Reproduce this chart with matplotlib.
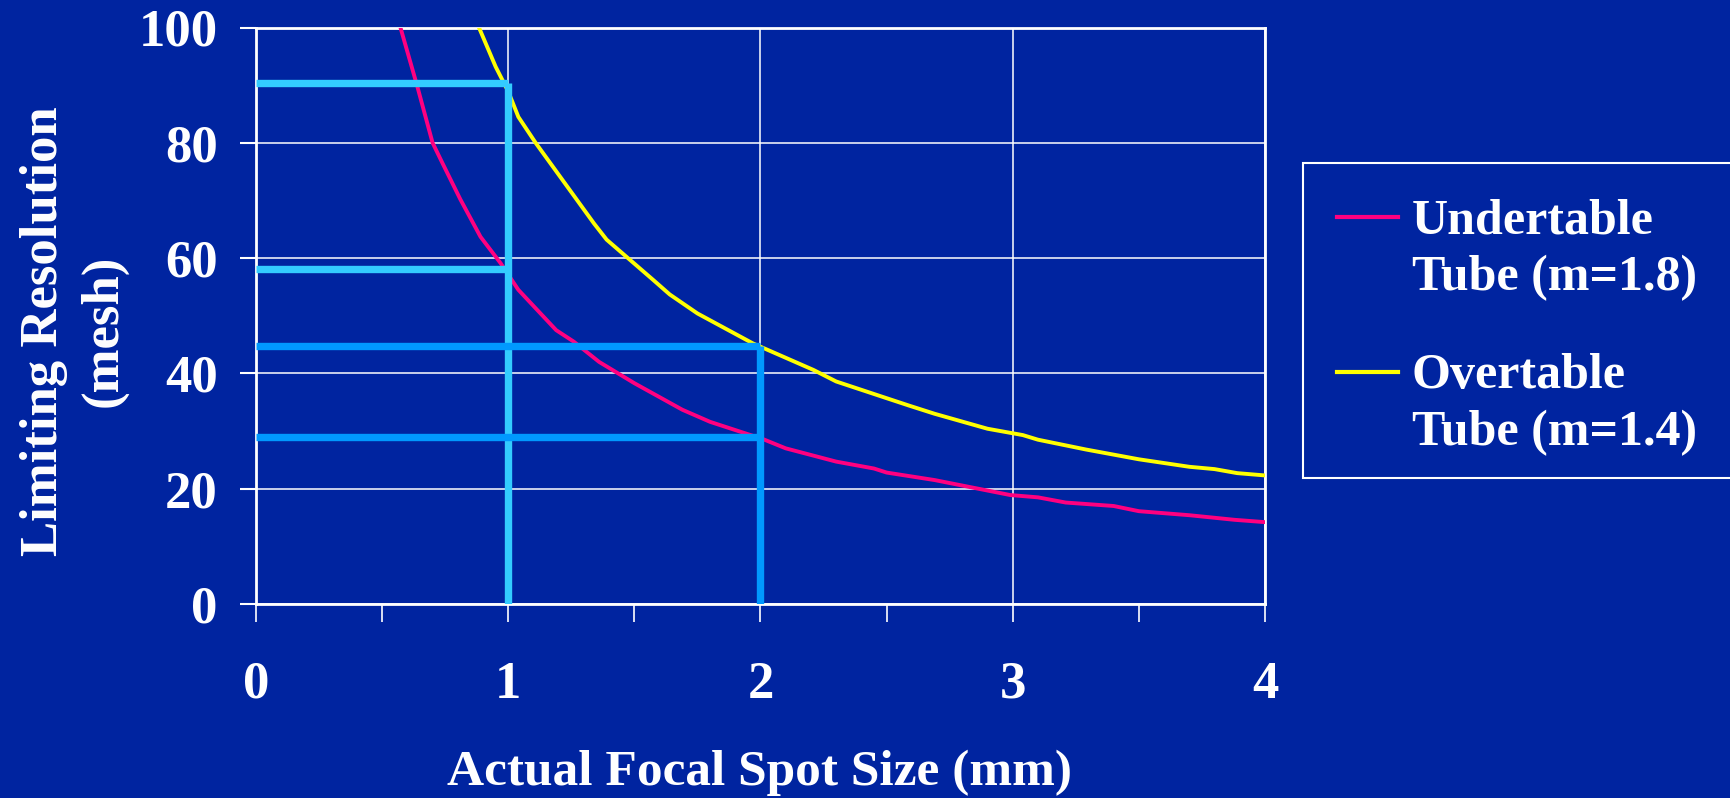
import matplotlib.pyplot as plt
from matplotlib.lines import Line2D
from matplotlib.patches import Rectangle

plt.rcParams['font.family'] = ['Liberation Serif', 'DejaVu Serif']
plt.rcParams['font.weight'] = 'bold'

# limiting resolution curves
under_x = [0.57, 0.64, 0.70, 0.74, 0.81, 0.89, 0.97, 1.04, 1.19, 1.26, 1.36, 1.50, 1.69, 1.80,
           2.01, 2.10, 2.30, 2.45, 2.50, 2.69, 2.99, 3.10, 3.21, 3.40, 3.50, 3.70, 3.88, 4.00]
under_y = [100.4, 89.7, 80.0, 76.4, 70.2, 63.7, 59.1, 54.5, 47.5, 45.5, 42.0, 38.3, 33.7, 31.6,
           28.6, 27.0, 24.7, 23.5, 22.8, 21.5, 18.9, 18.5, 17.6, 17.0, 16.1, 15.4, 14.6, 14.2]
over_x = [0.88, 0.95, 1.00, 1.04, 1.11, 1.34, 1.39, 1.575, 1.64, 1.75, 1.97, 2.21, 2.30,
          2.50, 2.59, 2.69, 2.90, 3.04, 3.10, 3.29, 3.50, 3.70, 3.80, 3.89, 4.00]
over_y = [100.4, 93.2, 88.9, 84.5, 79.9, 66.0, 63.2, 56.2, 53.7, 50.4, 45.2, 40.6, 38.6,
          35.7, 34.4, 33.0, 30.4, 29.3, 28.5, 26.8, 25.1, 23.8, 23.4, 22.7, 22.3]
series_labels = ['Undertable\nTube (m=1.8)', 'Overtable\nTube (m=1.4)']
series_colors = ['#FF0080', '#FFFF00']

# guide lines at 1 mm and 2 mm focal spot
guide_spots = [1, 2]
guide_over = [90.3, 44.8]
guide_under = [58.1, 28.9]
guide_colors = ['#33CCFF', '#0099FF']

x_ticks = [0, 1, 2, 3, 4]
x_minor = [0.5, 1.5, 2.5, 3.5]
y_ticks = [0, 20, 40, 60, 80, 100]

bg = '#0024A0'
W, H = 1731, 798

def fx(px):
    return px / W

def fy(py):
    return 1 - py / H

fig = plt.figure(figsize=(W / 100, H / 100), dpi=100, facecolor=bg)
ax = fig.add_axes([fx(256), fy(604), fx(1265) - fx(256), fy(27.5) - fy(604)])
ax.set_facecolor(bg)

ax.plot(under_x, under_y, color=series_colors[0], lw=2.8, zorder=3)
ax.plot(over_x, over_y, color=series_colors[1], lw=2.8, zorder=3)

for spot, top, low, c in zip(guide_spots, guide_over, guide_under, guide_colors):
    ax.plot([0, spot], [top, top], color=c, lw=5.3, solid_capstyle='butt', zorder=4)
    ax.plot([0, spot], [low, low], color=c, lw=5.3, solid_capstyle='butt', zorder=4)
    ax.plot([spot, spot], [0, top], color=c, lw=5.3, solid_capstyle='butt', zorder=4)

ax.set_xlim(0, 4)
ax.set_ylim(0, 100)
ax.set_xticks(x_ticks)
ax.set_xticks(x_minor, minor=True)
ax.set_xticklabels([str(v) for v in x_ticks])
ax.set_yticks(y_ticks)
ax.set_yticklabels([str(v) for v in y_ticks])
ax.grid(True, which='major', color='white', lw=1.1)
ax.set_axisbelow(True)
ax.tick_params(axis='x', which='both', direction='out', length=13, width=1.2,
               colors='white', pad=28, labelsize=38)
ax.tick_params(axis='y', direction='out', length=11.5, width=1.5,
               colors='white', pad=16, labelsize=38)
for s in ax.spines.values():
    s.set_color('white')
    s.set_linewidth(2)

fig.text(fx(760), fy(773), 'Actual Focal Spot Size (mm)', color='white',
         fontsize=37, ha='center', va='center')
fig.text(fx(74), fy(331), 'Limiting Resolution\n(mesh)', color='white', fontsize=38,
         rotation=90, ha='center', va='center', multialignment='center', linespacing=1.3)

# legend drawn by hand so the key sits on the first text line
fig.add_artist(Rectangle((fx(1303), fy(478)), fx(1740) - fx(1303), fy(163) - fy(478),
                         transform=fig.transFigure, facecolor=bg, edgecolor='white', lw=1.5))
entry_base = [233, 388]
for label, color, b in zip(series_labels, series_colors, entry_base):
    fig.add_artist(Line2D([fx(1337), fx(1398)], [fy(b - 16), fy(b - 16)],
                          transform=fig.transFigure, color=color, lw=3))
    for i, line in enumerate(label.split('\n')):
        fig.text(fx(1412), fy(b + 57 * i), line, color='white', fontsize=36,
                 ha='left', va='baseline')

fig.savefig('out.png', dpi=100, facecolor=bg)
